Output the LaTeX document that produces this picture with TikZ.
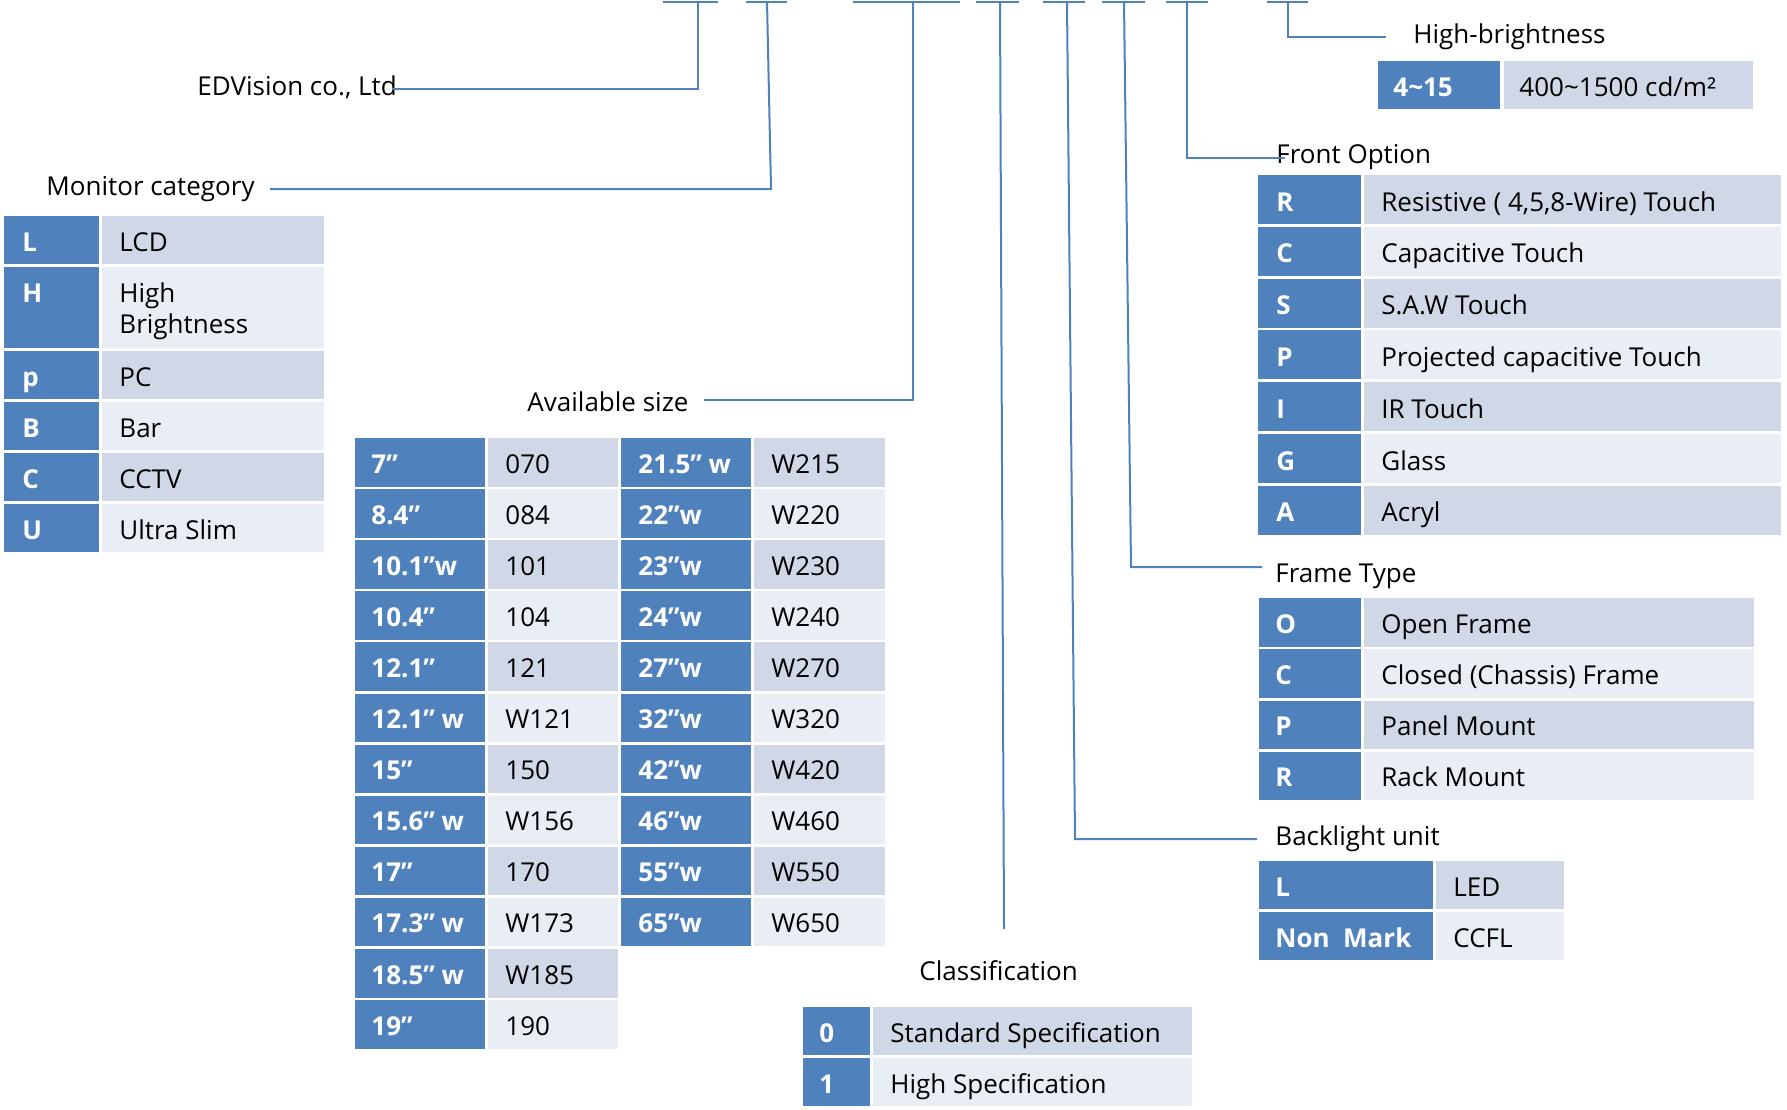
\documentclass[tikz,border=0pt]{standalone}
\usepackage{fontspec}
\setmainfont{Open Sans}
\usepackage{tikz}
\usetikzlibrary{positioning}
\definecolor{keyblue}{HTML}{4F81BD}
\definecolor{shade0}{HTML}{D0D8E8}
\definecolor{shade1}{HTML}{E9EDF4}
\definecolor{linkblue}{HTML}{4F81BD}

\tikzset{
	link/.style={draw=linkblue,line width=1pt},
	keytext/.style={anchor=base west,inner sep=0pt,text=white,font=\fontsize{13}{15.5}\selectfont\bfseries},
	desctext/.style={anchor=base west,inner sep=0pt,font=\fontsize{13}{15.5}\selectfont},
	headtext/.style={anchor=base west,inner sep=0pt,font=\fontsize{13}{15.5}\selectfont},
}

\begin{document}
\begin{tikzpicture}[x=0.5pt,y=-0.5pt]
	\useasboundingbox (0,0) rectangle (1787,1109);
	\fill[white] (0,0) rectangle (1787,1109);
	% code bars along the top
	\foreach \a/\b/\v [count=\n] in {663/718/698,746/787/767,853/960/913,976/1019/1000,1043/1085/1067,1102/1145/1124,1166/1208/1187,1267/1308/1288}{
		\draw[link] (\a,1.5) -- (\b,1.5);
		\coordinate (bar\n) at (\v,1.5);
	}
	% headings
	\node[headtext] (edv) at (197,95) {EDVision co., Ltd};
	\node[headtext] (mc) at (46,195) {Monitor category};
	\node[headtext] (as) at (527,411) {Available size};
	\node[headtext] (cl) at (919,980) {Classification};
	\node[headtext] (bl) at (1275,845) {Backlight unit};
	\node[headtext] (ft) at (1275,582) {Frame Type};
	\node[headtext] (fo) at (1276,163) {Front Option};
	\node[headtext] (hb) at (1413,43) {High-brightness};
	% leaders
	\coordinate (edvend) at (392,89);
	\draw[link] (bar1) |- (edvend);
	\coordinate (mcbend) at (771,189);
	\coordinate (mcend) at (270,189);
	\draw[link] (bar2) -- (mcbend) -- (mcend);
	\coordinate (asend) at (704,400);
	\draw[link] (bar3) |- (asend);
	\coordinate (clend) at (1004,929);
	\draw[link] (bar4) -- (clend);
	\coordinate (blbend) at (1075,839);
	\coordinate (blend) at (1257,839);
	\draw[link] (bar5) -- (blbend) -- (blend);
	\coordinate (ftbend) at (1131,567);
	\coordinate (ftend) at (1262,567);
	\draw[link] (bar6) -- (ftbend) -- (ftend);
	\coordinate (foend) at (1285,158);
	\draw[link] (bar7) |- (foend);
	\coordinate (hbend) at (1386,37);
	\draw[link] (bar8) |- (hbend);
	% monitor category
	\foreach \t/\s/\k/\d in {216/0/L/LCD,351/0/p/PC,402/1/B/Bar,453/0/C/CCTV,504/1/U/{Ultra Slim}}{
		\fill[keyblue] (4,\t) rectangle (99,\t+48);
		\fill[shade\s] (102,\t) rectangle (324,\t+48);
		\node[keytext] (mck\k) at (22,\t+35) {\k};
		\node[desctext] (mcd\k) at (119,\t+35) {\d};
	}
	\fill[keyblue] (4,267) rectangle (99,348);
	\fill[shade1] (102,267) rectangle (324,348);
	\node[keytext] (mckH) at (22,302) {H};
	\node[desctext,align=left] (mcdH) at (119,333) {High\\Brightness};
	% available size
	\foreach \k/\d [count=\i from 0] in {7”/070,8.4”/084,10.1”w/101,10.4”/104,12.1”/121,12.1” w/W121,15”/150,15.6” w/W156,17”/170,17.3” w/W173,18.5” w/W185,19”/190}{
		\pgfmathtruncatemacro\s{mod(\i,2)}
		\fill[keyblue] (355,438+51.1*\i) rectangle (485,486.5+51.1*\i);
		\fill[shade\s] (488,438+51.1*\i) rectangle (618,486.5+51.1*\i);
		\node[keytext] (asa\i) at (371,473+51.1*\i) {\k};
		\node[desctext] (asb\i) at (505,473+51.1*\i) {\d};
	}
	\foreach \k/\d [count=\i from 0] in {21.5” w/W215,22”w/W220,23”w/W230,24”w/W240,27”w/W270,32”w/W320,42”w/W420,46”w/W460,55”w/W550,65”w/W650}{
		\pgfmathtruncatemacro\s{mod(\i,2)}
		\fill[keyblue] (621,438+51.1*\i) rectangle (751,486.5+51.1*\i);
		\fill[shade\s] (754,438+51.1*\i) rectangle (885,486.5+51.1*\i);
		\node[keytext] (asc\i) at (638,473+51.1*\i) {\k};
		\node[desctext] (asd\i) at (771,473+51.1*\i) {\d};
	}
	% classification
	\foreach \k/\d [count=\i from 0] in {0/Standard Specification,1/High Specification}{
		\pgfmathtruncatemacro\s{mod(\i,2)}
		\fill[keyblue] (803,1007+51*\i) rectangle (870,1055+51*\i);
		\fill[shade\s] (873,1007+51*\i) rectangle (1192,1055+51*\i);
		\node[keytext] (clk\i) at (819,1042+51*\i) {\k};
		\node[desctext] (cld\i) at (890,1042+51*\i) {\d};
	}
	% high-brightness
	\fill[keyblue] (1378,61) rectangle (1500,109);
	\fill[shade0] (1504,61) rectangle (1753,109);
	\node[keytext] (hbk) at (1393,96) {4\textasciitilde 15};
	\node[desctext] (hbd) at (1519,96) {400\textasciitilde 1500 cd/m²};
	% front option
	\foreach \k/\d [count=\i from 0] in {R/{Resistive ( 4,5,8-Wire) Touch},C/{Capacitive Touch},S/{S.A.W Touch},P/{Projected capacitive Touch},I/{IR Touch},G/{Glass},A/{Acryl}}{
		\pgfmathtruncatemacro\s{mod(\i,2)}
		\fill[keyblue] (1258,175+51.8*\i) rectangle (1361,224+51.8*\i);
		\fill[shade\s] (1364,175+51.8*\i) rectangle (1781,224+51.8*\i);
		\node[keytext] (fok\i) at (1276,211+51.8*\i) {\k};
		\node[desctext] (fod\i) at (1381,211+51.8*\i) {\d};
	}
	% frame type
	\foreach \k/\d [count=\i from 0] in {O/Open Frame,C/{Closed (Chassis) Frame},P/Panel Mount,R/Rack Mount}{
		\pgfmathtruncatemacro\s{mod(\i,2)}
		\fill[keyblue] (1259,598+51.3*\i) rectangle (1361,646.5+51.3*\i);
		\fill[shade\s] (1364,598+51.3*\i) rectangle (1754,646.5+51.3*\i);
		\node[keytext] (ftk\i) at (1275,633+51.3*\i) {\k};
		\node[desctext] (ftd\i) at (1381,633+51.3*\i) {\d};
	}
	% backlight unit
	\foreach \k/\d [count=\i from 0] in {L/LED,Non~~Mark/CCFL}{
		\pgfmathtruncatemacro\s{mod(\i,2)}
		\fill[keyblue] (1259,861+51*\i) rectangle (1433,909+51*\i);
		\fill[shade\s] (1436,861+51*\i) rectangle (1564,909+51*\i);
		\node[keytext] (blk\i) at (1275,896+51*\i) {\k};
		\node[desctext] (bld\i) at (1453,896+51*\i) {\d};
	}
\end{tikzpicture}
\end{document}
